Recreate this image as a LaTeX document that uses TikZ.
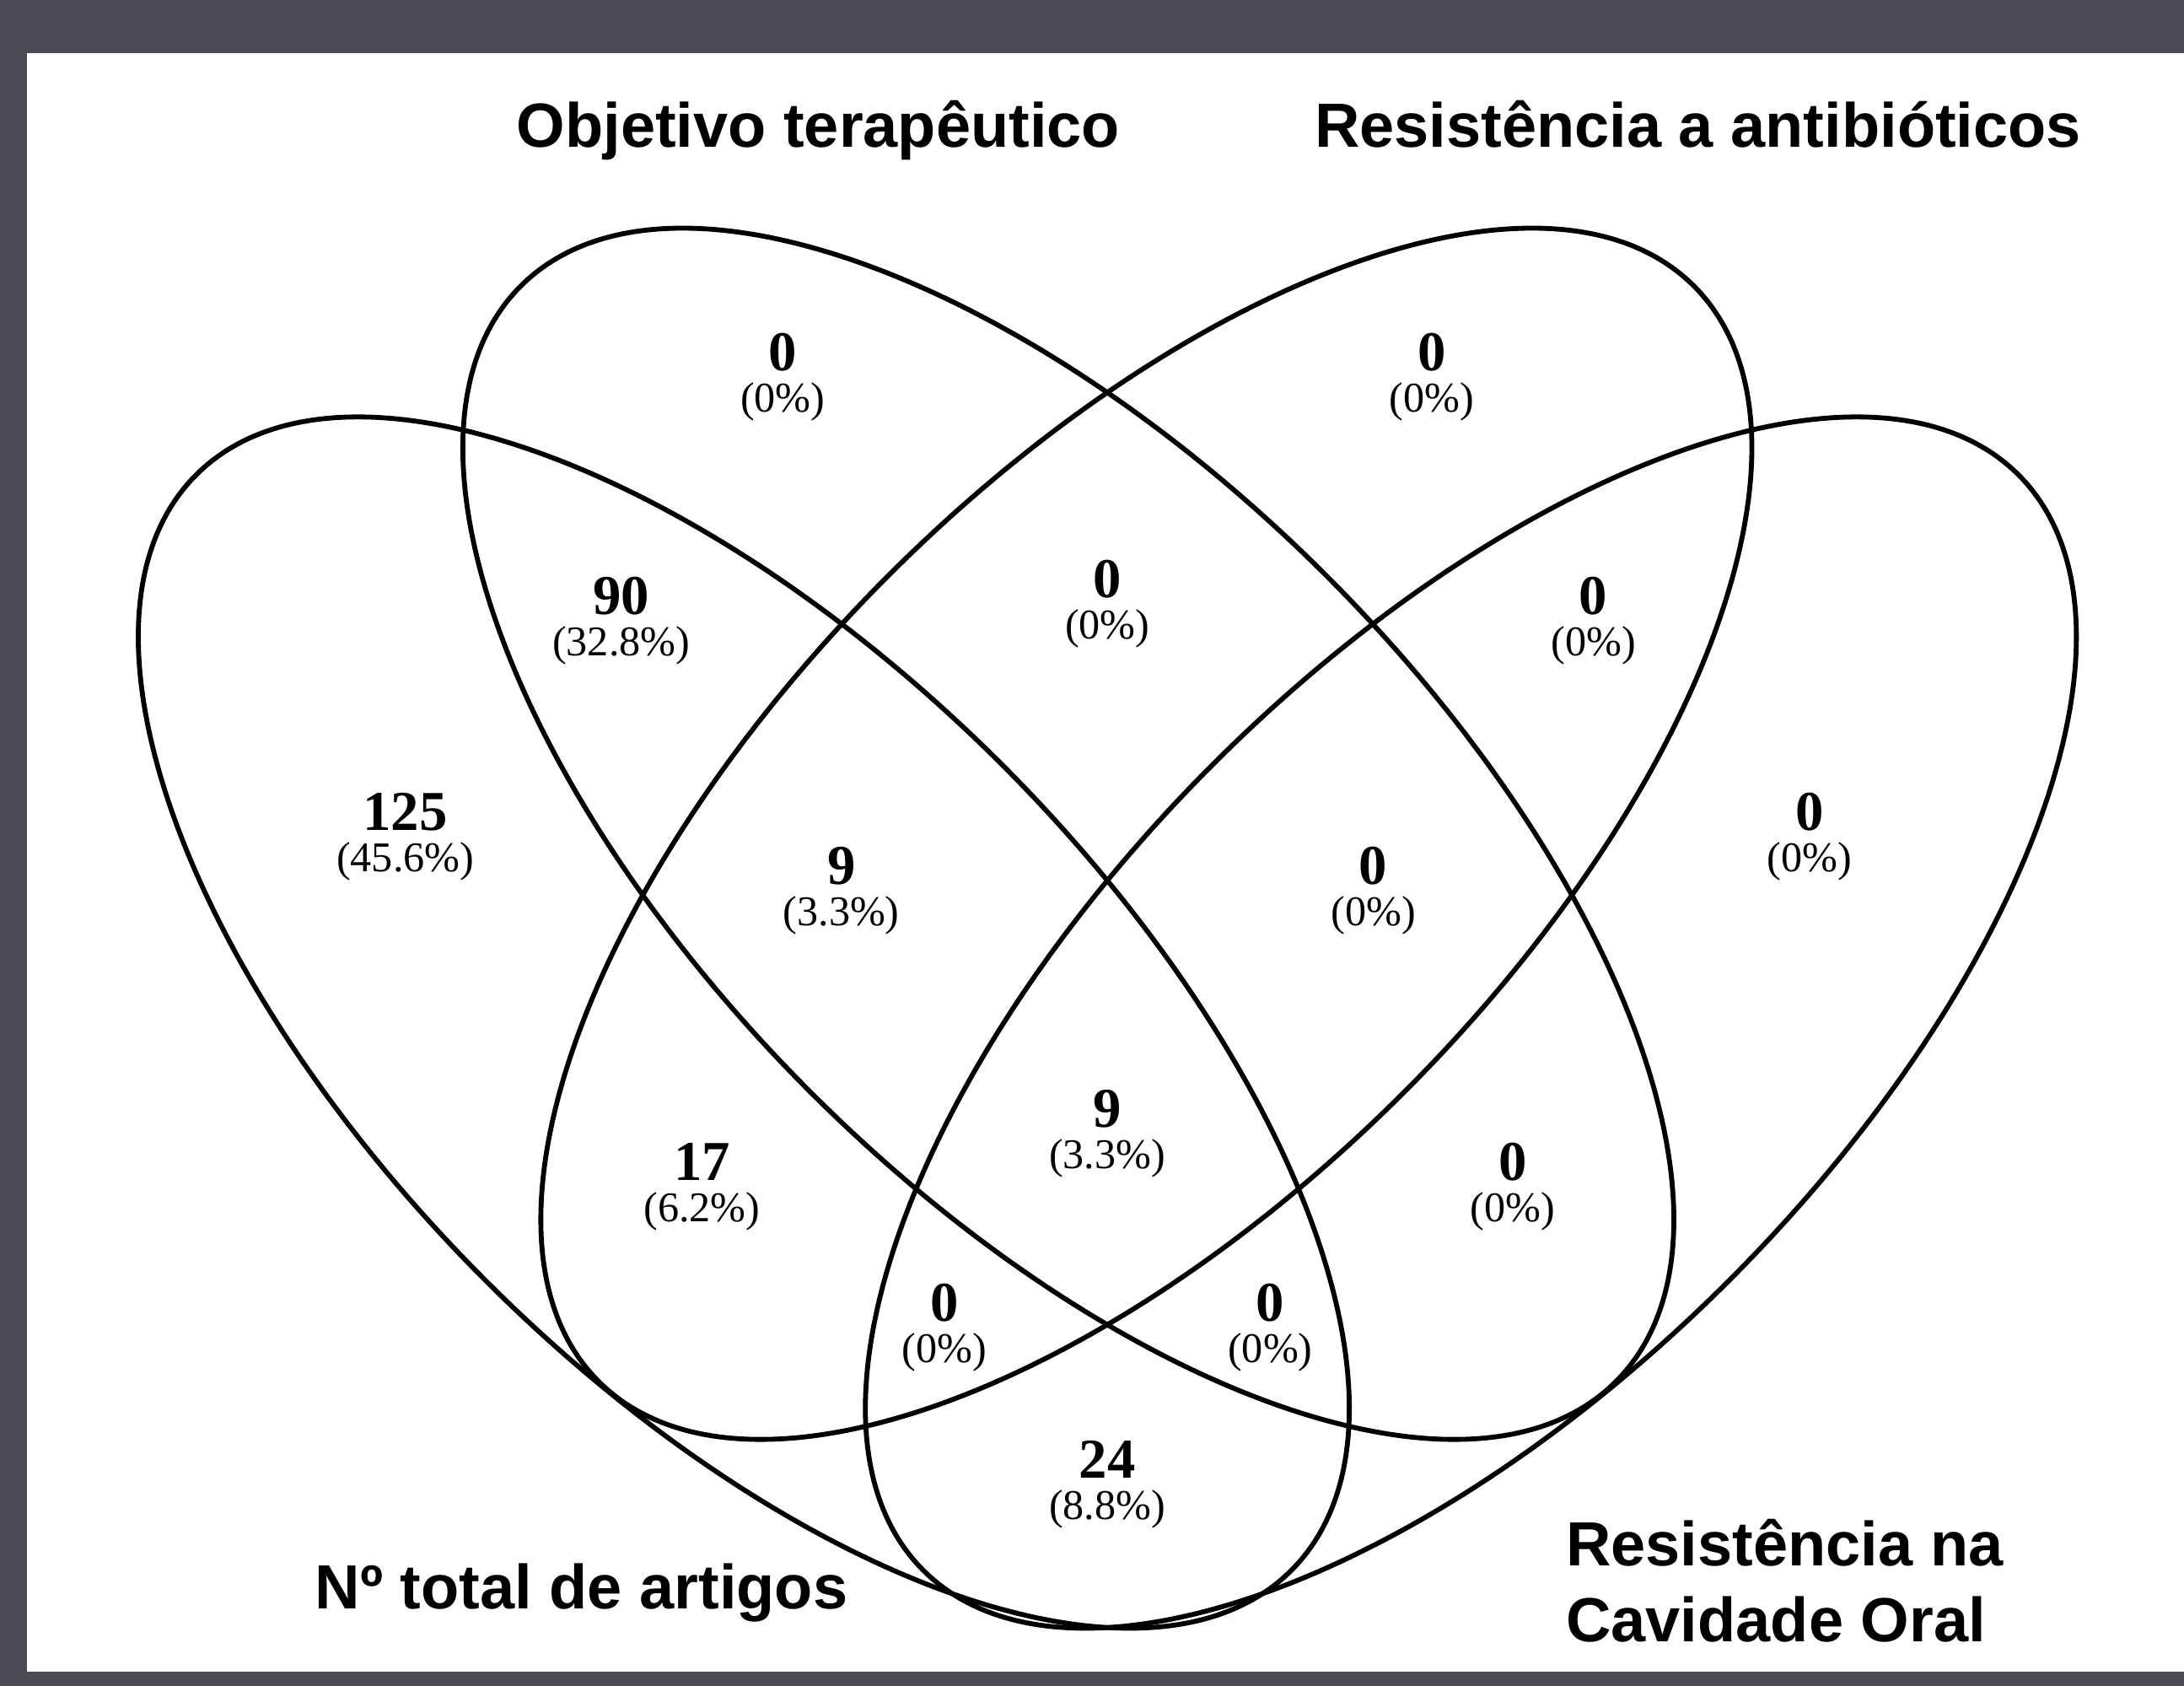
\documentclass[tikz,border=0pt]{standalone}
\usepackage{fontspec}
\usetikzlibrary{positioning}
\newfontfamily\lblfont{Liberation Sans}
\newfontfamily\numfont{Liberation Serif}
\definecolor{framegray}{RGB}{78,75,87}
\tikzset{
  venn/.style = {line width=2pt},
  lbl/.style = {inner sep=0pt, font=\lblfont\bfseries\fontsize{25.5}{30}\selectfont},
  cnt/.style = {inner sep=0pt, anchor=base, font=\numfont\bfseries\fontsize{23}{26}\selectfont},
  pct/.style = {inner sep=0pt, anchor=base, font=\numfont\fontsize{17.3}{20}\selectfont}
}

\begin{document}
\begin{tikzpicture}[x=0.02cm, y=0.02cm]
    \useasboundingbox (0,0) rectangle (1568,1210);
    \fill[framegray] (0,0) rectangle (1568,1210);
    \fill[white] (19.5,10) rectangle (1568,1172);

    \foreach \cx/\cy/\ang in {534/476/-45, 767/611.5/-45, 823/611.5/45, 1056/476/45}
        \draw[venn, shift={(\cx,\cy)}, rotate=\ang] (0,0) ellipse [x radius=556, y radius=262];

    \foreach \nm/\x/\y/\n/\p in {o/562/944/0/0, a/1028/944/0/0,
        no/446/769/90/32.8, oa/795/781/0/0, ar/1144/769/0/0,
        n/291/614/125/45.6, noa/604/575/9/3.3, oar/986/575/0/0, r/1299/614/0/0,
        noar/795/401/9/3.3, na/504/362.5/17/6.2, or/1086/362.5/0/0,
        nar/678/261.5/0/0, nor/912/261.5/0/0, nr/795/149/24/8.8}{
        \node[cnt] (c\nm) at (\x,\y) {\n};
        \node[pct] (p\nm) at ([yshift=-0.59cm]c\nm.base) {(\p\%)};
    }

    \node[lbl, anchor=base] (tO) at (587.5,1104.5) {Objetivo terapêutico};
    \node[lbl, anchor=base] (tA) at (1219,1104.5) {Resistência a antibióticos};
    \node[lbl, anchor=base west] (tN) at (226,55) {Nº total de artigos};
    \node[lbl, anchor=base west] (tR) at (1124,86) {Resistência na};
    \node[lbl, anchor=base west] (tC) at ([yshift=-1.09cm]tR.base west) {Cavidade Oral};
\end{tikzpicture}
\end{document}
